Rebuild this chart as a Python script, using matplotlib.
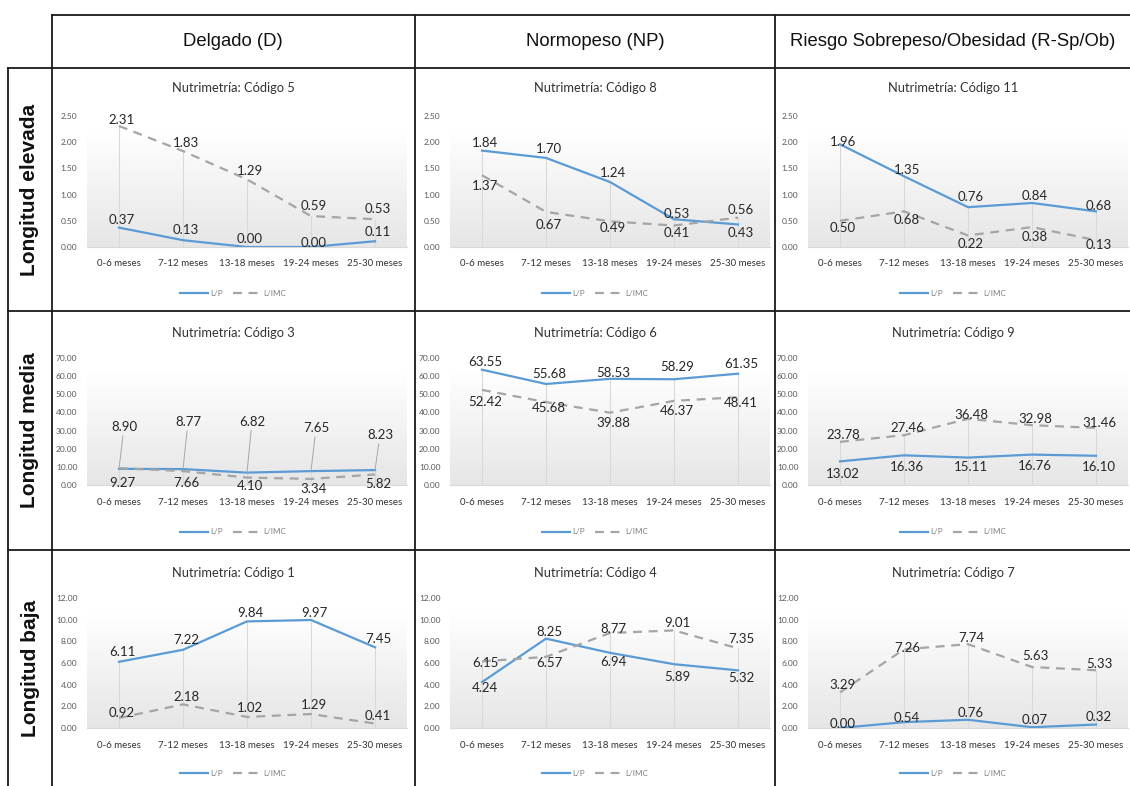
import matplotlib
matplotlib.use("Agg")
import matplotlib.pyplot as plt
import numpy as np

# ---- data ----
categories = ['0-6 meses', '7-12 meses', '13-18 meses', '19-24 meses', '25-30 meses']
col_headers = ['Delgado (D)', 'Normopeso (NP)', 'Riesgo Sobrepeso/Obesidad (R-Sp/Ob)']
row_headers = ['Longitud elevada', 'Longitud media', 'Longitud baja']
series_names = ['L/P', 'L/IMC']

# row 1: longitud elevada
lp_c5 = [0.37, 0.13, 0.00, 0.00, 0.11]
imc_c5 = [2.31, 1.83, 1.29, 0.59, 0.53]
lp_c8 = [1.84, 1.70, 1.24, 0.53, 0.43]
imc_c8 = [1.37, 0.67, 0.49, 0.41, 0.56]
lp_c11 = [1.96, 1.35, 0.76, 0.84, 0.68]
imc_c11 = [0.50, 0.68, 0.22, 0.38, 0.13]
# row 2: longitud media
lp_c3 = [8.90, 8.77, 6.82, 7.65, 8.23]
imc_c3 = [9.27, 7.66, 4.10, 3.34, 5.82]
lp_c6 = [63.55, 55.68, 58.53, 58.29, 61.35]
imc_c6 = [52.42, 45.68, 39.88, 46.37, 48.41]
lp_c9 = [13.02, 16.36, 15.11, 16.76, 16.10]
imc_c9 = [23.78, 27.46, 36.48, 32.98, 31.46]
# row 3: longitud baja
lp_c1 = [6.11, 7.22, 9.84, 9.97, 7.45]
imc_c1 = [0.92, 2.18, 1.02, 1.29, 0.41]
lp_c4 = [4.24, 8.25, 6.94, 5.89, 5.32]
imc_c4 = [6.15, 6.57, 8.77, 9.01, 7.35]
lp_c7 = [0.00, 0.54, 0.76, 0.07, 0.32]
imc_c7 = [3.29, 7.26, 7.74, 5.63, 5.33]

row_ymax = [2.5, 70, 12]
row_ystep = [0.5, 10, 2]

panels = [
    [(5, lp_c5, imc_c5), (8, lp_c8, imc_c8), (11, lp_c11, imc_c11)],
    [(3, lp_c3, imc_c3), (6, lp_c6, imc_c6), (9, lp_c9, imc_c9)],
    [(1, lp_c1, imc_c1), (4, lp_c4, imc_c4), (7, lp_c7, imc_c7)],
]

# label vertical offsets in pixels (positive = below the point)
label_dy = {
    5: ([-8, -10, -8, -4, -9], [-6, -8, -8, -10, -10]),
    8: ([-8, -9, -9, -5, 9], [11, 13, 7, 7, -8]),
    11: ([-2, -6, -10, -7, -5], [7, 9, 9, 10, 5]),
    3: ([-42, -47, -51, -43, -35], [15, 12, 8, 10, 10]),
    6: ([-8, -10, -6, -12, -10], [12, 6, 10, 10, 6]),
    9: ([13, 12, 9, 11, 11], [-7, -7, -4, -6, -5]),
    1: ([-10, -10, -8, -7, -8], [-5, -7, -9, -9, -8]),
    4: ([6, -7, 9, 13, 8], [2, 6, -4, -7, -9]),
    7: ([-4, -4, -7, -7, -8], [-7, -1, -6, -11, -6]),
}

# ---- layout (pixels) ----
W, H = 1130, 786
col_lines = [52, 415, 775]
col_centers = [233, 595, 953]
axes_left = [87, 450, 808]
axes_width = 320
row_top = [116, 358, 598]
row_zero = [247, 485, 728]
row_title = [88, 333, 573]
row_legend = [293, 532, 773]
row_mid = [190, 430, 668]

blue = '#5b9bd5'
gray = '#a5a5a5'
txt = '#262626'

plt.rcParams['font.family'] = ['Lato', 'DejaVu Sans']

fig = plt.figure(figsize=(W / 100, H / 100), dpi=100)

# table frame
frame = fig.add_axes([0, 0, 1, 1])
frame.set_xlim(0, W)
frame.set_ylim(H, 0)
frame.axis('off')
lc = '#1a1a1a'
frame.plot([52, W], [15, 15], color=lc, lw=1.3)
frame.plot([8, W], [68, 68], color=lc, lw=1.3)
frame.plot([8, W], [311, 311], color=lc, lw=1.3)
frame.plot([8, W], [550, 550], color=lc, lw=1.3)
frame.plot([8, 8], [68, H], color=lc, lw=1.3)
frame.plot([52, 52], [15, H], color=lc, lw=1.3)
for x in col_lines[1:]:
    frame.plot([x, x], [15, H], color=lc, lw=1.3)
for c, name in enumerate(col_headers):
    frame.text(col_centers[c], 42, name, ha='center', va='center', fontsize=13.3,
               family='Liberation Sans', color='#111111')
for r, name in enumerate(row_headers):
    frame.text(30, row_mid[r], name, ha='center', va='center', rotation=90,
               fontsize=15, fontweight='bold', family='Liberation Sans', color='#111111')

grad = np.linspace(0, 1, 100).reshape(-1, 1)
cmap = matplotlib.colors.LinearSegmentedColormap.from_list('g', ['#e6e6e6', '#ffffff'])

for r in range(3):
    ymax = row_ymax[r]
    for c in range(3):
        code, lp, imc = panels[r][c]
        left = axes_left[c] / W
        bottom = 1 - row_zero[r] / H
        height = (row_zero[r] - row_top[r]) / H
        ax = fig.add_axes([left, bottom, axes_width / W, height])
        ax.set_facecolor('none')
        x = np.arange(len(categories))
        ax.set_xlim(-0.5, 4.5)
        ax.set_ylim(0, ymax)
        ax.imshow(grad, extent=[-0.5, 4.5, 0, ymax * 0.89], aspect='auto',
                  cmap=cmap, origin='lower', zorder=0)
        ax.vlines(x, 0, np.maximum(lp, imc), color='#d9d9d9', lw=0.8, zorder=1)
        ax.plot(x, lp, color=blue, lw=1.6, zorder=3, label=series_names[0])
        ax.plot(x, imc, color=gray, lw=1.6, ls=(0, (4, 3)), zorder=3, label=series_names[1])
        for s, vals in enumerate([lp, imc]):
            for i, v in enumerate(vals):
                dy = label_dy[code][s][i]
                dx = 3
                kw = {}
                if code == 3 and s == 0:
                    dx = 5
                    kw['arrowprops'] = dict(arrowstyle='-', color='#a6a6a6', lw=0.7,
                                            shrinkA=0, shrinkB=0)
                ax.annotate(f'{v:.2f}', (i, v), xytext=(dx * 0.72, -dy * 0.72),
                            textcoords='offset points', ha='center', va='center',
                            fontsize=9.5, color=txt, zorder=5, **kw)
        ax.set_yticks(np.arange(0, ymax + 1e-9, row_ystep[r]))
        ax.set_yticklabels([f'{t:.2f}' for t in ax.get_yticks()])
        ax.set_xticks(x)
        ax.set_xticklabels(categories)
        ax.tick_params(axis='y', length=0, pad=7, labelsize=6, labelcolor='#595959')
        ax.tick_params(axis='x', length=0, pad=9, labelsize=7, labelcolor='#333333')
        for sp in ['top', 'right', 'left']:
            ax.spines[sp].set_visible(False)
        ax.spines['bottom'].set_color('#d9d9d9')
        ax.spines['bottom'].set_linewidth(0.8)
        fig.text(col_centers[c] / W, 1 - row_title[r] / H, f'Nutrimetría: Código {code}',
                 ha='center', va='center', fontsize=9.3, color='#333333')
        leg = ax.legend(loc='center', bbox_to_anchor=(col_centers[c] / W, 1 - row_legend[r] / H),
                        bbox_transform=fig.transFigure, ncol=2, frameon=False,
                        fontsize=5.8, handlelength=3.5, columnspacing=1.2, handletextpad=0.3)
        for t in leg.get_texts():
            t.set_color('#7f7f7f')

fig.savefig('out.png', dpi=100)
